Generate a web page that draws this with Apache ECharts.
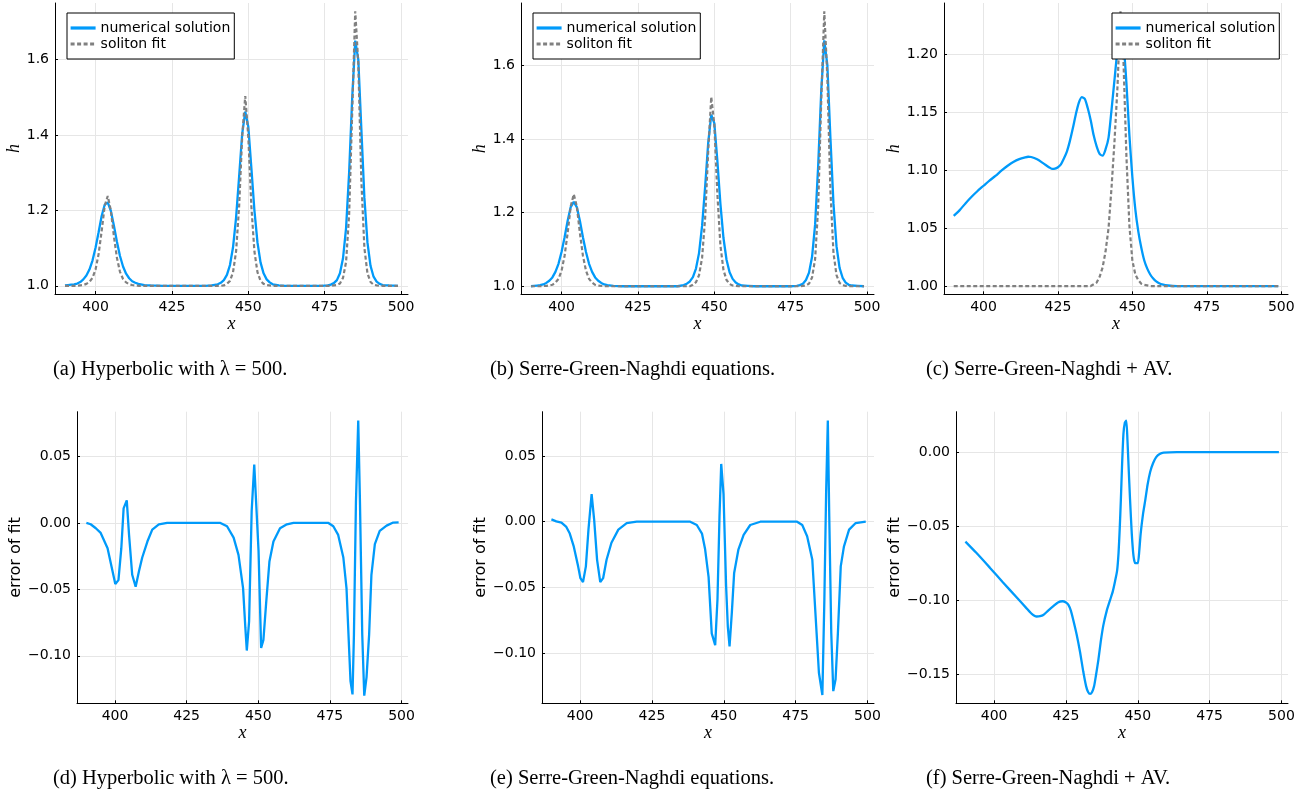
<!DOCTYPE html>
<html>
<head>
<meta charset="utf-8">
<script src="https://cdn.jsdelivr.net/npm/echarts@6/dist/echarts.min.js"></script>
<style>html,body{margin:0;padding:0;background:#fff}#c{width:1307px;height:795px}</style>
</head>
<body>
<div id="c"></div>
<script>
// ---------- tick labels ----------
const xTicks = [400, 425, 450, 475, 500];
const hTicksAB = [1.0, 1.2, 1.4, 1.6];
const hTicksC = [1.00, 1.05, 1.10, 1.15, 1.20];
const errTicksDE = [-0.10, -0.05, 0.00, 0.05];
const errTicksF = [-0.15, -0.10, -0.05, 0.00];

// ---------- names / captions ----------
const seriesNames = ['numerical solution', 'soliton fit'];
const captions = [
  '(a) Hyperbolic with \u03bb = 500.',
  '(b) Serre-Green-Naghdi equations.',
  '(c) Serre-Green-Naghdi + AV.',
  '(d) Hyperbolic with \u03bb = 500.',
  '(e) Serre-Green-Naghdi equations.',
  '(f) Serre-Green-Naghdi + AV.'
];

// ---------- (a) hyperbolic, lambda = 500 ----------
const numA = [[390,1.001],[391,1.002],[392,1.003],[393,1.004],[394,1.006],[395,1.010],[396,1.017],[397,1.027],[398,1.043],[399,1.067],[400,1.101],[401,1.142],[402,1.185],[403,1.215],[404,1.221],[405,1.199],[406,1.160],[407,1.117],[408,1.079],[409,1.051],[410,1.032],[411,1.020],[412,1.012],[413,1.008],[414,1.005],[416,1.002],[418,1.001],[422,1.000],
[436,1.000],[438,1.001],[440,1.004],[441,1.008],[442,1.015],[443,1.029],[444,1.055],[445,1.102],[446,1.181],[447,1.290],[448,1.403],[449,1.462],[450,1.422],[451,1.313],[452,1.200],[453,1.115],[454,1.062],[455,1.033],[456,1.017],[457,1.009],[458,1.004],[460,1.001],[462,1.000],
[474,1.000],[476,1.001],[477,1.003],[478,1.007],[479,1.015],[480,1.033],[481,1.073],[482,1.153],[483,1.300],[484,1.497],[485,1.650],[486,1.600],[487,1.416],[488,1.233],[489,1.115],[490,1.053],[491,1.024],[492,1.011],[493,1.005],[494,1.002],[496,1.001],[499,1.000]];
const fitA = [[390,1.000],[394,1.000],[395,1.001],[396,1.002],[397,1.005],[398,1.010],[399,1.021],[400,1.043],[401,1.084],[402,1.145],[403,1.212],[404,1.238],[405,1.200],[406,1.132],[407,1.074],[408,1.037],[409,1.018],[410,1.009],[411,1.004],[412,1.002],[414,1.000],
[441,1.000],[442,1.001],[443,1.005],[444,1.013],[445,1.036],[446,1.091],[447,1.211],[448,1.395],[449,1.503],[450,1.395],[451,1.211],[452,1.091],[453,1.036],[454,1.013],[455,1.005],[456,1.002],[458,1.000],
[477,1.000],[478,1.001],[479,1.002],[480,1.006],[481,1.021],[482,1.063],[483,1.189],[484,1.459],[485,1.728],[486,1.590],[487,1.279],[488,1.100],[489,1.033],[490,1.010],[491,1.003],[492,1.001],[494,1.000],[499,1.000]];

// ---------- (b) Serre-Green-Naghdi ----------
const numB = [[390,1.000],[391,1.001],[392,1.002],[393,1.003],[394,1.005],[395,1.009],[396,1.015],[397,1.024],[398,1.039],[399,1.061],[400,1.093],[401,1.133],[402,1.178],[403,1.215],[404,1.229],[405,1.215],[406,1.178],[407,1.133],[408,1.093],[409,1.061],[410,1.039],[411,1.024],[412,1.015],[413,1.009],[414,1.005],[415,1.003],[417,1.001],[420,1.000],
[438,1.000],[440,1.003],[441,1.007],[442,1.013],[443,1.025],[444,1.048],[445,1.090],[446,1.164],[447,1.270],[448,1.389],[449,1.466],[450,1.443],[451,1.341],[452,1.224],[453,1.131],[454,1.072],[455,1.038],[456,1.020],[457,1.010],[458,1.005],[459,1.002],[461,1.001],[463,1.000],
[475,1.000],[477,1.001],[478,1.003],[479,1.007],[480,1.017],[481,1.037],[482,1.080],[483,1.168],[484,1.327],[485,1.530],[486,1.668],[487,1.601],[488,1.404],[489,1.225],[490,1.109],[491,1.050],[492,1.023],[493,1.010],[494,1.004],[495,1.002],[497,1.001],[499,1.000]];
const fitB = [[390,1.000],[393,1.000],[395,1.001],[396,1.002],[397,1.004],[398,1.010],[399,1.020],[400,1.042],[401,1.083],[402,1.145],[403,1.217],[404,1.250],[405,1.217],[406,1.145],[407,1.083],[408,1.042],[409,1.020],[410,1.010],[411,1.004],[412,1.002],[414,1.000],
[442,1.000],[443,1.004],[444,1.011],[445,1.030],[446,1.077],[447,1.185],[448,1.366],[449,1.514],[450,1.440],[451,1.251],[452,1.111],[453,1.044],[454,1.017],[455,1.006],[456,1.002],[458,1.000],
[478,1.000],[479,1.001],[480,1.002],[481,1.007],[482,1.024],[483,1.074],[484,1.217],[485,1.504],[486,1.747],[487,1.568],[488,1.261],[489,1.091],[490,1.030],[491,1.009],[492,1.003],[493,1.001],[495,1.000],[499,1.000]];

// ---------- (c) Serre-Green-Naghdi + AV ----------
const numC = [[390,1.0605],[392,1.0655],[394,1.0715],[396,1.0770],[398,1.0820],[400,1.0865],[402,1.0910],[404,1.0950],[406,1.0995],[408,1.1035],[410,1.1070],[412,1.1095],[414,1.1110],[415,1.1115],[416,1.1113],[418,1.1093],[420,1.1060],[422,1.1025],[423,1.1010],[424,1.1012],[425,1.1025],[426,1.1050],[427,1.1100],[428,1.1160],[429,1.1250],[430,1.1360],[431,1.1480],[432,1.1580],[433,1.1630],[434,1.1615],[435,1.1535],[436,1.1430],[437,1.1300],[438,1.1205],[439,1.1140],[440,1.1125],[441,1.1180],[442,1.1280],[443,1.1520],[444,1.1780],[445,1.2030],[446,1.2150],[447,1.2080],[448,1.1750],[449,1.1300],[450,1.0940],[451,1.0660],[452,1.0470],[453,1.0330],[454,1.0220],[455,1.0150],[456,1.0100],[457,1.0065],[458,1.0040],[459,1.0025],[460,1.0015],[462,1.0005],[465,1.0000],[499,1.0000]];
const fitC = [[390,1.000],[436,1.000],[438,1.003],[439,1.008],[440,1.016],[441,1.030],[442,1.050],[443,1.085],[444,1.125],[445,1.172],[446,1.237],[447,1.195],[448,1.112],[449,1.052],[450,1.022],[451,1.010],[452,1.005],[453,1.002],[454,1.001],[456,1.000],[499,1.000]];

// ---------- (d) error of fit, hyperbolic ----------
const errD = [[390.0,0],[391.5,-0.001],[393.3,-0.004],[395.0,-0.0075],[397.4,-0.019],[399.1,-0.036],[400.1,-0.046],[401.2,-0.043],[402.2,-0.019],[403.0,0.011],[404.1,0.017],[404.9,-0.009],[406.0,-0.039],[407.2,-0.048],[408.4,-0.036],[409.5,-0.026],[411.3,-0.014],[413.0,-0.005],[415.3,-0.001],[418.2,0],[436.8,0],[439.1,-0.0025],[441.4,-0.011],[443.1,-0.024],[444.7,-0.049],[445.5,-0.079],[446.0,-0.096],[446.8,-0.074],[447.7,0.009],[448.6,0.044],[449.2,0.044],[450.1,-0.021],[451.0,-0.094],[451.8,-0.088],[452.8,-0.059],[453.9,-0.029],[455.3,-0.014],[457.6,-0.004],[460.0,-0.001],[462.3,0],[474.5,0],[476.2,-0.0025],[477.9,-0.009],[479.7,-0.026],[480.8,-0.049],[481.8,-0.099],[482.2,-0.119],[482.9,-0.129],[483.4,-0.084],[484.1,0.016],[484.9,0.077],[485.5,0.016],[486.3,-0.084],[487.0,-0.130],[487.8,-0.116],[488.7,-0.084],[489.5,-0.039],[490.7,-0.016],[492.4,-0.006],[494.8,-0.002],[497.1,0.0003],[499.0,0.0005]];

// ---------- (e) error of fit, Serre-Green-Naghdi ----------
const errE = [[390.0,0.0018],[391.7,0.0003],[393.5,-0.0007],[395.2,-0.004],[396.4,-0.009],[397.8,-0.019],[399.3,-0.034],[400.1,-0.043],[401.0,-0.046],[402.0,-0.034],[402.9,-0.006],[404.0,0.021],[404.9,0.001],[405.9,-0.029],[407.0,-0.046],[408.0,-0.043],[409.2,-0.029],[410.9,-0.016],[413.3,-0.006],[416.2,-0.001],[419.7,0],[438.3,0],[440.6,-0.0025],[442.4,-0.009],[443.5,-0.021],[444.7,-0.042],[445.8,-0.085],[447.0,-0.094],[447.8,-0.059],[448.5,0.004],[449.1,0.044],[449.9,0.021],[450.8,-0.049],[451.4,-0.080],[452.0,-0.095],[452.8,-0.069],[453.6,-0.039],[455.1,-0.021],[456.9,-0.010],[459.2,-0.0025],[462.7,0],[475.5,0],[477.3,-0.0025],[479.0,-0.011],[480.8,-0.029],[482.3,-0.085],[483.1,-0.115],[484.3,-0.132],[485.0,-0.059],[485.6,0.021],[486.2,0.077],[486.7,0.004],[487.4,-0.085],[488.1,-0.129],[488.9,-0.120],[489.7,-0.085],[490.7,-0.034],[491.8,-0.019],[493.6,-0.006],[495.9,-0.001],[499.4,0]];

// ---------- (f) error of fit, Serre-Green-Naghdi + AV ----------
const errF = [[390.0,-0.0604],[393.8,-0.068],[398.5,-0.078],[403.1,-0.088],[407.8,-0.098],[411.3,-0.1055],[413.0,-0.109],[414.8,-0.111],[416.0,-0.1108],[417.1,-0.110],[418.8,-0.107],[420.6,-0.104],[422.2,-0.1015],[423.8,-0.1007],[425.0,-0.1015],[425.8,-0.103],[426.7,-0.107],[427.5,-0.113],[428.7,-0.123],[429.9,-0.135],[431.0,-0.148],[432.0,-0.158],[432.7,-0.162],[433.4,-0.1633],[434.1,-0.162],[434.8,-0.158],[435.5,-0.150],[436.3,-0.140],[437.1,-0.128],[438.0,-0.117],[439.2,-0.107],[440.4,-0.0996],[441.3,-0.094],[442.1,-0.087],[442.8,-0.080],[443.3,-0.068],[443.7,-0.052],[444.1,-0.0324],[444.5,-0.010],[445.0,0.0123],[445.5,0.020],[446.0,0.0213],[446.4,0.008],[446.8,-0.010],[447.3,-0.032],[447.9,-0.055],[448.5,-0.070],[449.1,-0.075],[450.0,-0.075],[450.5,-0.067],[451.0,-0.055],[451.8,-0.042],[452.6,-0.0324],[453.4,-0.022],[454.3,-0.0134],[455.3,-0.0075],[456.4,-0.0034],[457.6,-0.0013],[459.0,-0.0004],[463.6,0],[499.1,0]];

// ---------- styling & layout ----------
const BLUE = '#009AFA';
const GRAY = '#808080';
const SANS = '"DejaVu Sans", sans-serif';
const SERIF = '"Liberation Serif", serif';

const grids = [
  {left:55,  top:3,     width:353, height:291},
  {left:521, top:3,     width:353, height:291.5},
  {left:944, top:3,     width:344, height:291.3},
  {left:77,  top:411.7, width:331, height:291.6},
  {left:542, top:411.7, width:332, height:291.6},
  {left:956, top:411.7, width:332, height:291.6}
];
const yRanges = [[0.9782,1.7498],[0.9776,1.7694],[0.9929,1.2441],[-0.1357,0.0837],[-0.1383,0.0838],[-0.1696,0.0273]];
const yTicks = [hTicksAB, hTicksAB, hTicksC, errTicksDE, errTicksDE, errTicksF];
const yDec = [1,1,2,2,2,2];
const yNames = ['h','h','h','error of fit','error of fit','error of fit'];

function fmtY(dec){ return function(v){ const s = Math.abs(v).toFixed(dec); return (v < -1e-9 ? '\u2212' : '') + s; }; }

const xAxes = grids.map((g,i) => ({
  type:'value', gridIndex:i, min:386.73, max:502.27,
  axisLine:{show:true, onZero:false, lineStyle:{color:'#000', width:1}},
  axisTick:{show:true, inside:true, length:3, customValues:xTicks, lineStyle:{color:'#000'}},
  axisLabel:{customValues:xTicks, fontSize:14, color:'#000', fontFamily:SANS, margin:6, formatter:v=>String(Math.round(v))},
  splitLine:{show:true, lineStyle:{color:'#e6e6e6', width:1}},
  name:'x', nameLocation:'middle', nameGap:19,
  nameTextStyle:{fontFamily:SERIF, fontStyle:'italic', fontSize:18, color:'#000'}
}));
const yAxes = grids.map((g,i) => ({
  type:'value', gridIndex:i, min:yRanges[i][0], max:yRanges[i][1],
  axisLine:{show:true, onZero:false, lineStyle:{color:'#000', width:1}},
  axisTick:{show:true, inside:true, length:3, customValues:yTicks[i], lineStyle:{color:'#000'}},
  axisLabel:{customValues:yTicks[i], fontSize:14, color:'#000', fontFamily:SANS, margin:6, formatter:fmtY(yDec[i])},
  splitLine:{show:true, lineStyle:{color:'#e6e6e6', width:1}},
  name:yNames[i], nameLocation:'middle', nameRotate:90,
  nameGap: i < 3 ? 28 : 53,
  nameTextStyle: i < 3 ? {fontFamily:SERIF, fontStyle:'italic', fontSize:18, color:'#000'}
                       : {fontFamily:SANS, fontSize:16, color:'#000'}
}));

function lineSeries(name, data, idx, dashed, smooth){
  return {
    type:'line', name:name, data:data, xAxisIndex:idx, yAxisIndex:idx,
    symbol:'none', showSymbol:false, smooth:smooth || false, animation:false,
    lineStyle: dashed ? {color:GRAY, width:2.2, type:[4,2.5]} : {color:BLUE, width:2.3},
    itemStyle:{color: dashed ? GRAY : BLUE},
    z: dashed ? 3 : 2
  };
}

const series = [
  lineSeries(seriesNames[0], numA, 0, false), lineSeries(seriesNames[1], fitA, 0, true),
  lineSeries(seriesNames[0], numB, 1, false), lineSeries(seriesNames[1], fitB, 1, true),
  lineSeries(seriesNames[0], numC, 2, false, 0.25), lineSeries(seriesNames[1], fitC, 2, true),
  lineSeries(seriesNames[0], errD, 3, false),
  lineSeries(seriesNames[0], errE, 4, false),
  lineSeries(seriesNames[0], errF, 5, false, 0.2)
];

const legendPos = [[67,13],[533,13],[1112,13]];
const legends = legendPos.map(p => ({
  data: seriesNames, orient:'vertical', left:p[0], top:p[1],
  padding:[8,4,8,2], itemWidth:25, itemHeight:14, itemGap:2,
  backgroundColor:'#fff', borderColor:'#000', borderWidth:1, borderRadius:0,
  selectedMode:false, z:10, zlevel:1,
  textStyle:{fontSize:14, color:'#000', fontFamily:SANS, lineHeight:14},
  itemStyle:{opacity:0},
  lineStyle:{width:3.2}
}));

const capPos = [[53,370],[490,370],[926,370],[53,779],[490,779],[926,779]];
const graphic = captions.map((t,i) => ({
  type:'text', x:capPos[i][0], y:capPos[i][1],
  style:{text:t, fontSize:20.5, fontFamily:SERIF, fill:'#000', align:'left', verticalAlign:'middle', textVerticalAlign:'middle'}
}));

const chart = echarts.init(document.getElementById('c'), null, {renderer:'canvas'});
chart.setOption({
  animation:false,
  backgroundColor:'#fff',
  grid: grids.map(g => Object.assign({containLabel:false, outerBoundsMode:'none'}, g)),
  xAxis: xAxes,
  yAxis: yAxes,
  legend: legends,
  series: series,
  graphic: graphic
});
</script>
</body>
</html>
